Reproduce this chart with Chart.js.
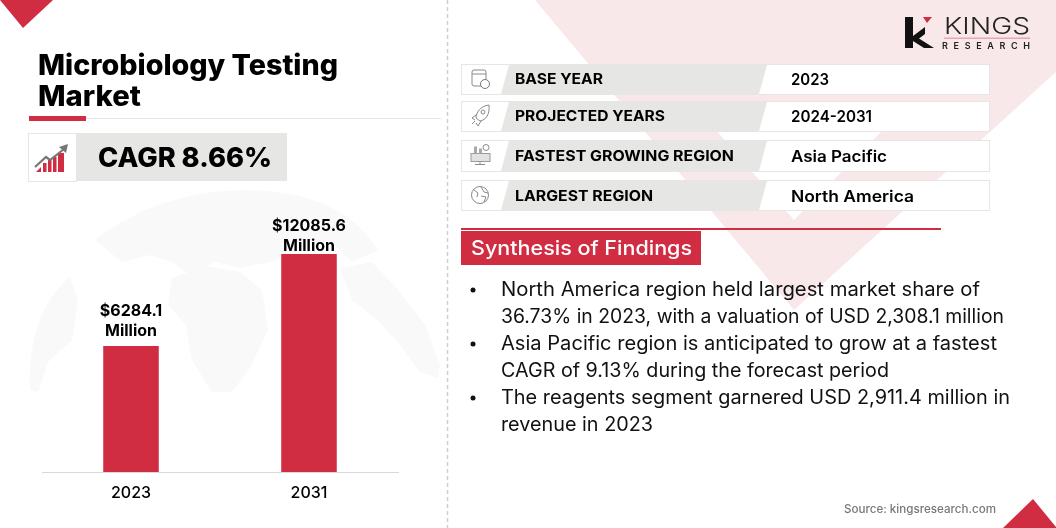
<!DOCTYPE html>
<html>
<head>
<meta charset="utf-8">
<title>Microbiology Testing Market</title>
<script src="https://cdn.jsdelivr.net/npm/chart.js@4"></script>
<style>
  html, body { margin: 0; padding: 0; background: #fff; }
  #page { position: relative; width: 1056px; height: 528px; overflow: hidden; font-family: Inter, sans-serif; }
  #bg, #fg { position: absolute; left: 0; top: 0; }
  #chart { position: absolute; left: 0; top: 0; }
  text { font-family: Inter, sans-serif; fill: #000; }
</style>
</head>
<body>
<div id="page">
  <svg id="bg" width="1056" height="528">
    <!-- pink V behind the table -->
    <polygon points="535,0 794,310 1056,72 1056,0" fill="#f9e8ea"/>
    <polygon points="716,130 883,130 794,220" fill="#fff"/>
    <!-- faint globe -->
    <g fill="#f9f9f9">
      <path d="M30,390 C28,340 42,300 70,277 L78,300 L72,340 L48,362 L38,392 Z"/>
      <path d="M95,240 C140,205 190,192 240,190 C300,190 350,205 378,250 L352,262 L330,240 L300,250 L270,262 L240,268 L215,262 L190,275 L172,262 L150,255 L122,262 Z"/>
      <path d="M172,278 L205,266 L240,272 L262,290 L268,330 L250,368 L232,392 L212,392 L192,360 L186,325 L168,305 Z"/>
      <path d="M340,268 L372,262 L398,290 L425,325 L440,365 L438,378 L420,372 L400,345 L378,320 L352,300 Z"/>
    </g>
  </svg>

  <canvas id="chart" width="1056" height="528" style="width:1056px;height:528px"></canvas>

  <svg id="fg" width="1056" height="528">
    <!-- corners and divider -->
    <polygon points="0,0 53,0 23,28" fill="#d02c42"/>
    <polygon points="1033,499 1003,528 1056,528 1056,527" fill="#d02c42"/>
    <line x1="447.5" y1="0" x2="447.5" y2="528" stroke="#cfcfcf" stroke-width="1.5" stroke-dasharray="4 3"/>

    <!-- title -->
    <text x="38" y="75" font-size="28" font-weight="800" textLength="300" lengthAdjust="spacingAndGlyphs">Microbiology Testing</text>
    <text x="38" y="106" font-size="28" font-weight="800" textLength="103" lengthAdjust="spacingAndGlyphs">Market</text>
    <rect x="86" y="118" width="355" height="1" fill="#e5e5e5"/>
    <rect x="29" y="116" width="57" height="5" fill="#d02c42"/>

    <!-- CAGR badge -->
    <rect x="28.5" y="133.5" width="48" height="48" fill="#fff" stroke="#e6e6e6"/>
    <rect x="76" y="133" width="211" height="48" fill="#e6e6e4"/>
    <g fill="#d02c42">
      <polygon points="36,172 41,167 41,172"/><rect x="43" y="163" width="3.5" height="9"/>
      <rect x="48" y="160" width="3.5" height="12"/><rect x="53" y="157" width="3.5" height="15"/>
      <rect x="58" y="153" width="3.5" height="19"/><rect x="61" y="153" width="3" height="19"/>
    </g>
    <polyline points="35,167 46,157 50,160 64,149" fill="none" stroke="#777" stroke-width="2.2"/>
    <polygon points="59,147 68,144 66,153" fill="#777"/>
    <text x="98" y="167" font-size="27" font-weight="800" textLength="174" lengthAdjust="spacingAndGlyphs">CAGR 8.66%</text>

    <!-- info rows -->
    <g id="rows"></g>

    <!-- findings -->
    <rect x="461" y="228" width="480" height="2" fill="#d02c42"/>
    <rect x="461" y="231" width="240" height="34" fill="#d02c42"/>
    <text x="471" y="255" font-size="20" font-weight="500" style="fill:#fff" textLength="221" lengthAdjust="spacingAndGlyphs">Synthesis of Findings</text>
    <g id="findings"></g>

    <!-- logo -->
    <rect x="905" y="17" width="8" height="31" fill="#111"/>
    <polygon points="913,36 925,27 925,34 919,38.5 934,48 924,48 913,41" fill="#111"/>
    <polygon points="923,17 932,17 927,23" fill="#d02c42"/>
    <text x="944" y="34" font-size="23" font-weight="300" style="fill:#222" textLength="86" lengthAdjust="spacingAndGlyphs">KINGS</text>
    <rect x="944" y="37.5" width="86" height="1.5" fill="#e8a9b4"/>
    <text x="942" y="49" font-size="9" font-weight="600" style="fill:#222" textLength="88" lengthAdjust="spacing">RESEARCH</text>

    <text x="844" y="513" font-size="11.5" font-weight="500" style="fill:#777" textLength="152" lengthAdjust="spacingAndGlyphs">Source: kingsresearch.com</text>
  </svg>
</div>

<script>
// bar chart values
const years = ['2023', '2031'];
const marketSize = [6284.1, 12085.6];
const sizeLabels = ['$6284.1', '$12085.6'];
const unitLabel = 'Million';
const labelGaps = [10, 3];
const yMin = -1660;
const yMax = 15490;

// table on the right
const rowLabels = ['BASE YEAR', 'PROJECTED YEARS', 'FASTEST GROWING REGION', 'LARGEST REGION'];
const rowValues = ['2023', '2024-2031', 'Asia Pacific', 'North America'];
const rowLabelWidths = [88, 150, 219, 138];
const rowValueWidths = [38, 81, 96, 123];
const rowTops = [64, 101, 140, 180];
const rowHeights = [30, 30, 31, 30];
const rowBaselines = [84, 121, 161, 201];

// findings text, wrapped as in the source
const findingLines = [
  'North America region held largest market share of',
  '36.73% in 2023, with a valuation of USD 2,308.1 million',
  'Asia Pacific region is anticipated to grow at a fastest',
  'CAGR of 9.13% during the forecast period',
  'The reagents segment garnered USD 2,911.4 million in',
  'revenue in 2023'
];
const findingWidths = [479, 503, 496, 388, 509, 152];
const bulletLines = [0, 2, 4];

const NS = 'http://www.w3.org/2000/svg';
function add(parent, tag, attrs, txt) {
  const el = document.createElementNS(NS, tag);
  Object.keys(attrs).forEach(k => el.setAttribute(k, attrs[k]));
  if (txt) el.textContent = txt;
  parent.appendChild(el);
  return el;
}

// small grey line icons, one per row
function drawIcon(g, i, cy) {
  const st = { fill: 'none', stroke: '#8a8a8a', 'stroke-width': 1 };
  if (i === 0) {
    add(g, 'rect', { x: 472, y: cy - 9, width: 14, height: 16, rx: 2, ...st });
    add(g, 'line', { x1: 472, y1: cy - 5, x2: 486, y2: cy - 5, ...st });
    add(g, 'circle', { cx: 485, cy: cy + 5, r: 4.5, fill: '#fff', stroke: '#777', 'stroke-width': 1 });
  } else if (i === 1) {
    add(g, 'path', { d: `M489,${cy - 11} C480,${cy - 10} 476,${cy - 3} 476,${cy + 2} L480,${cy + 5} C486,${cy + 4} 490,${cy - 2} 489,${cy - 11} Z`, ...st });
    add(g, 'circle', { cx: 483, cy: cy - 4, r: 2, ...st });
    add(g, 'path', { d: `M476,${cy - 1} L472,${cy + 2} L475,${cy + 4} M481,${cy + 5} L478,${cy + 10} L476,${cy + 7} M475,${cy + 5} L472,${cy + 8}`, ...st });
  } else if (i === 2) {
    add(g, 'rect', { x: 471, y: cy - 2, width: 19, height: 8, fill: '#e2e2e2', stroke: '#9a9a9a', 'stroke-width': 1 });
    add(g, 'rect', { x: 474, y: cy - 9, width: 3, height: 7, fill: '#aaa' });
    add(g, 'rect', { x: 479, y: cy - 7, width: 3, height: 5, fill: '#aaa' });
    add(g, 'circle', { cx: 486, cy: cy - 8, r: 3, ...st });
    add(g, 'line', { x1: 480, y1: cy + 6, x2: 480, y2: cy + 9, ...st });
    add(g, 'line', { x1: 475, y1: cy + 9, x2: 485, y2: cy + 9, ...st });
  } else {
    add(g, 'circle', { cx: 480, cy: cy, r: 8.5, ...st });
    add(g, 'path', { d: `M474,${cy - 5} L478,${cy - 2} L477,${cy + 2} M481,${cy - 8} L484,${cy - 3} L488,${cy - 2} M481,${cy + 1} L486,${cy + 2} L484,${cy + 7}`, ...st });
  }
}

const rowsG = document.getElementById('rows');
rowLabels.forEach((label, i) => {
  const t = rowTops[i], h = rowHeights[i], cy = t + h / 2;
  add(rowsG, 'rect', { x: 461.5, y: t + 0.5, width: 528, height: h, fill: '#fff', stroke: '#e6e6e6' });
  add(rowsG, 'polygon', { points: `509,${t + 1} 767,${t + 1} 759,${t + h} 501,${t + h}`, fill: '#e6e6e4' });
  drawIcon(rowsG, i, cy);
  add(rowsG, 'text', { x: 515, y: rowBaselines[i], 'font-size': 15, 'font-weight': 700, textLength: rowLabelWidths[i], lengthAdjust: 'spacingAndGlyphs' }, label);
  add(rowsG, 'text', { x: 791, y: rowBaselines[i] + 1, 'font-size': 16, 'font-weight': 600, textLength: rowValueWidths[i], lengthAdjust: 'spacingAndGlyphs' }, rowValues[i]);
});

const findG = document.getElementById('findings');
findingLines.forEach((line, i) => {
  const base = 296 + i * 27;
  add(findG, 'text', { x: 501, y: base, 'font-size': 19.5, 'font-weight': 400, style: 'fill:#111', textLength: findingWidths[i], lengthAdjust: 'spacingAndGlyphs' }, line);
  if (bulletLines.includes(i)) add(findG, 'circle', { cx: 473, cy: base - 6, r: 2.5, fill: '#111' });
});

// value labels above each bar, two lines
const barLabels = {
  id: 'barLabels',
  afterDatasetsDraw(chart) {
    const ctx = chart.ctx;
    const meta = chart.getDatasetMeta(0);
    ctx.save();
    ctx.fillStyle = '#000';
    ctx.textAlign = 'center';
    ctx.font = '700 16px Inter';
    meta.data.forEach((bar, i) => {
      ctx.fillText(sizeLabels[i], bar.x, bar.y - labelGaps[i] - 20);
      ctx.fillText(unitLabel, bar.x, bar.y - labelGaps[i]);
    });
    ctx.restore();
  }
};

new Chart(document.getElementById('chart').getContext('2d'), {
  type: 'bar',
  data: {
    labels: years,
    datasets: [{
      data: marketSize,
      base: yMin,
      backgroundColor: '#d02c42',
      categoryPercentage: 1,
      barPercentage: 0.312
    }]
  },
  options: {
    responsive: false,
    animation: false,
    devicePixelRatio: 1,
    layout: { padding: { left: 42, right: 658, top: 200, bottom: 0 } },
    plugins: { legend: { display: false }, tooltip: { enabled: false } },
    scales: {
      y: { display: false, min: yMin, max: yMax },
      x: {
        afterFit(scale) { scale.height = 56; },
        grid: { display: false },
        border: { color: '#d9d9d9', width: 1 },
        ticks: { color: '#000', font: { family: 'Inter', size: 16, weight: '500' }, padding: 4, maxRotation: 0 }
      }
    }
  },
  plugins: [barLabels]
});
</script>
</body>
</html>
